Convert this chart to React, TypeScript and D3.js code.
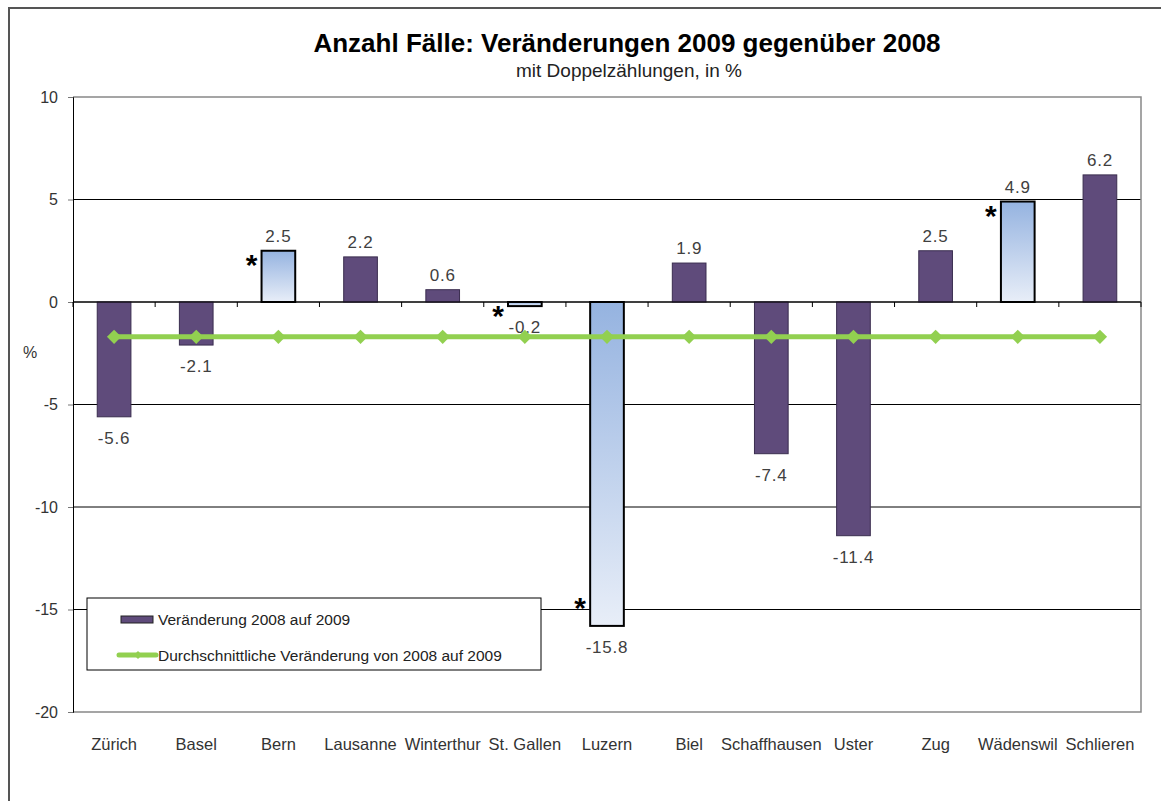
import React, { useEffect, useRef } from 'react';
import * as d3 from 'd3';

const cities = ['Zürich', 'Basel', 'Bern', 'Lausanne', 'Winterthur', 'St. Gallen', 'Luzern', 'Biel', 'Schaffhausen', 'Uster', 'Zug', 'Wädenswil', 'Schlieren'];
const changes = [-5.6, -2.1, 2.5, 2.2, 0.6, -0.2, -15.8, 1.9, -7.4, -11.4, 2.5, 4.9, 6.2];
const flagged = ['Bern', 'St. Gallen', 'Luzern', 'Wädenswil'];
const averageChange = -1.7;
const yTicks = [10, 5, 0, -5, -10, -15, -20];
const seriesNames = ['Veränderung 2008 auf 2009', 'Durchschnittliche Veränderung von 2008 auf 2009'];

// plain hyphen instead of d3's unicode minus
const fmt1 = (v: number) => v.toFixed(1);
const fmt0 = (v: number) => String(v);

const App = () => {
  const ref = useRef<SVGSVGElement>(null);

  useEffect(() => {
    const svg = d3.select(ref.current);
    svg.selectAll('*').remove();

    const font = 'Liberation Sans, Arial, sans-serif';
    const left = 73, right = 1141, top = 97, bottom = 712;

    const x = d3.scaleBand().domain(cities).range([left, right]).padding(0);
    const y = d3.scaleLinear().domain([-20, 10]).range([bottom, top]);
    const barW = x.bandwidth() * 0.41;

    // gradient for the flagged bars
    const defs = svg.append('defs');
    const grad = defs.append('linearGradient').attr('id', 'blueGrad')
      .attr('x1', 0).attr('y1', 0).attr('x2', 0).attr('y2', 1);
    grad.append('stop').attr('offset', '0%').attr('stop-color', '#95b3e0');
    grad.append('stop').attr('offset', '100%').attr('stop-color', '#e8eef8');

    // outer frame
    svg.append('path')
      .attr('d', `M9,801 L9,8 L1161,8`)
      .attr('fill', 'none').attr('stroke', '#555').attr('stroke-width', 2);

    // titles
    svg.append('text').attr('x', 627).attr('y', 52).attr('text-anchor', 'middle')
      .attr('font-family', font).attr('font-weight', 'bold').attr('font-size', 26)
      .attr('fill', '#000').text('Anzahl Fälle: Veränderungen 2009 gegenüber 2008');
    svg.append('text').attr('x', 629).attr('y', 77).attr('text-anchor', 'middle')
      .attr('font-family', font).attr('font-size', 19)
      .attr('fill', '#222').text('mit Doppelzählungen, in %');

    // gridlines
    svg.append('g').selectAll('line')
      .data(yTicks.filter(t => t !== 10 && t !== -20))
      .enter().append('line')
      .attr('x1', left).attr('x2', right)
      .attr('y1', d => y(d)).attr('y2', d => y(d))
      .attr('stroke', '#000').attr('stroke-width', 1);

    // plot border (top, right, bottom)
    svg.append('path')
      .attr('d', `M${left},${y(10)} L${right},${y(10)} L${right},${y(-20)} L${left},${y(-20)}`)
      .attr('fill', 'none').attr('stroke', '#888').attr('stroke-width', 1.5);

    // y axis
    const yAxis = svg.append('g').attr('transform', `translate(${left},0)`)
      .call(d3.axisLeft(y).tickValues(yTicks).tickSize(5).tickPadding(10).tickFormat(d => fmt0(+d)));
    yAxis.select('.domain').attr('stroke', '#000');
    yAxis.selectAll('.tick line').attr('stroke', '#777');
    yAxis.selectAll('text').attr('font-family', font).attr('font-size', 16).attr('fill', '#333');

    svg.append('text').attr('x', 30).attr('y', 358).attr('text-anchor', 'middle')
      .attr('font-family', font).attr('font-size', 16).attr('fill', '#333').text('%');

    // bars
    const barData = cities.map((c, i) => ({ city: c, value: changes[i], flag: flagged.includes(c) }));
    svg.append('g').selectAll('rect')
      .data(barData)
      .enter().append('rect')
      .attr('x', d => x(d.city)! + (x.bandwidth() - barW) / 2)
      .attr('width', barW)
      .attr('y', d => Math.min(y(d.value), y(0)))
      .attr('height', d => Math.abs(y(d.value) - y(0)))
      .attr('fill', d => d.flag ? 'url(#blueGrad)' : '#5f4b7b')
      .attr('stroke', d => d.flag ? '#000' : '#3a2d4f')
      .attr('stroke-width', d => d.flag ? 2 : 1);

    // category axis at zero
    svg.append('line').attr('x1', left).attr('x2', right)
      .attr('y1', y(0)).attr('y2', y(0)).attr('stroke', '#000').attr('stroke-width', 1.2);
    const bounds = cities.map(c => x(c)!).concat([right]);
    svg.append('g').selectAll('line')
      .data(bounds)
      .enter().append('line')
      .attr('x1', d => d).attr('x2', d => d)
      .attr('y1', y(0)).attr('y2', y(0) + 5)
      .attr('stroke', '#000');

    // category labels
    svg.append('g').selectAll('text')
      .data(cities)
      .enter().append('text')
      .attr('x', d => x(d)! + x.bandwidth() / 2)
      .attr('y', 750)
      .attr('text-anchor', 'middle')
      .attr('font-family', font).attr('font-size', 16.5).attr('fill', '#333')
      .text(d => d);

    // value labels
    svg.append('g').selectAll('text')
      .data(barData)
      .enter().append('text')
      .attr('x', d => x(d.city)! + x.bandwidth() / 2)
      .attr('y', d => d.value >= 0 ? y(d.value) - 9 : y(d.value) + 27)
      .attr('text-anchor', 'middle')
      .attr('font-family', font).attr('font-size', 17).attr('fill', '#404040')
      .attr('letter-spacing', 0.8)
      .text(d => fmt1(d.value));

    // asterisks
    svg.append('g').selectAll('text')
      .data(barData.filter(d => d.flag))
      .enter().append('text')
      .attr('x', d => x(d.city)! + (x.bandwidth() - barW) / 2 - 10)
      .attr('y', d => d.value >= 0 ? y(d.value) + 24 : Math.max(y(d.value) - 8, y(0) + 24))
      .attr('text-anchor', 'middle')
      .attr('font-family', font).attr('font-weight', 'bold').attr('font-size', 30).attr('fill', '#000')
      .text('*');

    // average line
    const lineColor = '#92d050';
    const line = d3.line<string>()
      .x(d => x(d)! + x.bandwidth() / 2)
      .y(() => y(averageChange));
    svg.append('path').datum(cities)
      .attr('d', line)
      .attr('fill', 'none').attr('stroke', lineColor).attr('stroke-width', 5);
    const diamond = d3.symbol().type(d3.symbolDiamond2).size(130);
    svg.append('g').selectAll('path')
      .data(cities)
      .enter().append('path')
      .attr('d', diamond)
      .attr('transform', d => `translate(${x(d)! + x.bandwidth() / 2},${y(averageChange)})`)
      .attr('fill', lineColor);

    // legend
    const lg = svg.append('g');
    lg.append('rect').attr('x', 87).attr('y', 598).attr('width', 454).attr('height', 72)
      .attr('fill', '#fff').attr('stroke', '#000').attr('stroke-width', 1);
    lg.append('rect').attr('x', 121).attr('y', 616).attr('width', 32).attr('height', 7)
      .attr('fill', '#5f4b7b').attr('stroke', '#222').attr('stroke-width', 1);
    lg.append('line').attr('x1', 119).attr('x2', 156).attr('y1', 655).attr('y2', 655)
      .attr('stroke', lineColor).attr('stroke-width', 5).attr('stroke-linecap', 'round');
    lg.append('path').attr('d', d3.symbol().type(d3.symbolDiamond2).size(40)())
      .attr('transform', 'translate(138,655)').attr('fill', lineColor);
    lg.selectAll('text.lbl')
      .data(seriesNames)
      .enter().append('text')
      .attr('x', 158)
      .attr('y', (d, i) => 625 + i * 36)
      .attr('font-family', font).attr('font-size', 15.5).attr('fill', '#222')
      .text(d => d);
  }, []);

  return (
    <svg ref={ref} width={1161} height={801}
      style={{ position: 'absolute', left: 0, top: 0, background: '#fff' }} />
  );
};

export default App;
